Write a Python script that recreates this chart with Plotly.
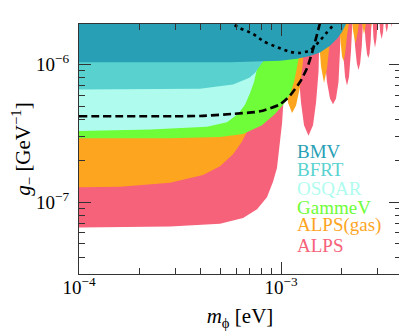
import plotly.graph_objects as go

# ---------------- data ----------------
TOP_G = 2.5e-6  # region upper edge (off the top of the chart)

BMV_m = [1.0e-4, 5.59e-4, 7.87e-4, 9.89e-4, 1.20e-3, 1.391e-3, 1.56e-3, 1.748e-3, 1.893e-3, 2.004e-3, 2.098e-3, 2.171e-3]
BMV_g = [1.04e-6, 1.04e-6, 1.05e-6, 1.068e-6, 1.102e-6, 1.154e-6, 1.226e-6, 1.371e-6, 1.54e-6, 1.726e-6, 1.97e-6, 2.19e-6]

BFRT_m = [1.0e-4, 3.97e-4, 5.79e-4, 6.79e-4, 7.02e-4, 7.43e-4, 7.87e-4, 8.23e-4, 8.62e-4, 8.92e-4]
BFRT_g = [6.61e-7, 6.68e-7, 7.18e-7, 7.89e-7, 8.10e-7, 8.68e-7, 9.71e-7, 1.077e-6, 1.371e-6, 2.11e-6]

OSQAR_m = [1.0e-4, 2.25e-4, 4.30e-4, 5.40e-4, 6.13e-4, 6.64e-4, 7.02e-4, 7.35e-4, 7.61e-4, 7.87e-4, 8.14e-4, 8.33e-4]
OSQAR_g = [3.30e-7, 3.385e-7, 3.535e-7, 3.82e-7, 4.39e-7, 5.13e-7, 6.20e-7, 7.49e-7, 9.22e-7, 1.154e-6, 1.63e-6, 2.30e-6]

GAMMEV_m = [1.0e-4, 2.82e-4, 4.99e-4, 6.49e-4, 8.05e-4, 9.34e-4, 1.047e-3, 1.108e-3, 1.160e-3, 1.200e-3, 1.228e-3, 1.256e-3, 1.27e-3]
GAMMEV_g = [2.92e-7, 2.92e-7, 2.985e-7, 3.13e-7, 3.63e-7, 4.39e-7, 5.31e-7, 6.09e-7, 7.49e-7, 9.54e-7, 1.154e-6, 1.495e-6, 2.11e-6]

ALPSGAS_m = [1.0e-4, 1.596e-4, 2.82e-4, 4.11e-4, 4.99e-4, 5.79e-4, 6.39e-4, 6.79e-4, 7.19e-4, 7.52e-4, 7.78e-4, 7.96e-4, 8.05e-4,
             1.0e-3, 1.047e-3, 1.083e-3, 1.134e-3, 1.187e-3, 1.242e-3, 1.285e-3, 1.323e-3,
             1.474e-3, 1.543e-3, 1.578e-3, 1.633e-3, 1.689e-3, 1.748e-3, 1.789e-3,
             1.893e-3, 1.959e-3, 2.004e-3, 2.035e-3, 2.075e-3, 2.122e-3, 2.196e-3,
             2.221e-3, 2.272e-3, 2.338e-3, 2.405e-3, 2.461e-3,
             2.475e-3, 2.533e-3, 2.576e-3, 2.620e-3, 2.680e-3,
             2.696e-3, 2.790e-3, 2.887e-3]
ALPSGAS_g = [1.287e-7, 1.298e-7, 1.39e-7, 1.583e-7, 1.827e-7, 2.24e-7, 2.74e-7, 3.25e-7, 3.89e-7, 5.31e-7, 8.91e-7, 1.778e-6, 2.5e-6,
             2.5e-6, 8.91e-7, 5.31e-7, 4.46e-7, 5.04e-7, 6.87e-7, 1.059e-6, 2.5e-6,
             2.5e-6, 1.495e-6, 9.71e-7, 7.36e-7, 9.38e-7, 1.495e-6, 2.5e-6,
             2.5e-6, 1.63e-6, 1.154e-6, 1.059e-6, 1.195e-6, 1.63e-6, 2.5e-6,
             2.5e-6, 1.778e-6, 1.42e-6, 1.778e-6, 2.5e-6,
             2.5e-6, 1.905e-6, 1.659e-6, 1.905e-6, 2.5e-6,
             2.5e-6, 1.872e-6, 2.5e-6]

ALPS_m = [1.0e-4, 2.82e-4, 4.99e-4, 6.49e-4, 7.61e-4, 8.52e-4, 9.13e-4, 9.55e-4, 9.89e-4, 1.012e-3, 1.035e-3, 1.053e-3, 1.065e-3,
          1.187e-3, 1.221e-3, 1.256e-3, 1.300e-3, 1.368e-3, 1.440e-3, 1.491e-3, 1.534e-3, 1.56e-3,
          1.578e-3, 1.633e-3, 1.689e-3, 1.748e-3, 1.809e-3, 1.872e-3, 1.926e-3, 1.959e-3, 1.982e-3,
          2.028e-3, 2.075e-3, 2.122e-3, 2.171e-3, 2.221e-3, 2.259e-3,
          2.272e-3, 2.325e-3, 2.373e-3, 2.419e-3, 2.466e-3, 2.512e-3, 2.547e-3,
          2.561e-3, 2.620e-3, 2.665e-3, 2.705e-3, 2.742e-3, 2.780e-3, 2.805e-3,
          2.822e-3, 2.871e-3, 2.920e-3, 2.970e-3, 3.021e-3,
          3.039e-3, 3.097e-3, 3.150e-3, 3.199e-3, 3.234e-3,
          3.253e-3, 3.297e-3, 3.335e-3, 3.377e-3, 3.424e-3,
          3.443e-3, 3.532e-3, 3.626e-3]
ALPS_g = [6.56e-8, 6.68e-8, 6.99e-8, 7.70e-8, 8.91e-8, 1.088e-7, 1.41e-7, 1.778e-7, 2.66e-7, 3.76e-7, 6.30e-7, 1.259e-6, 2.5e-6,
          2.5e-6, 8.91e-7, 5.31e-7, 3.63e-7, 3.05e-7, 3.63e-7, 5.31e-7, 8.91e-7, 2.5e-6,
          2.5e-6, 1.259e-6, 7.49e-7, 5.68e-7, 5.15e-7, 5.68e-7, 7.49e-7, 1.259e-6, 2.5e-6,
          1.259e-6, 8.17e-7, 7.05e-7, 8.17e-7, 1.259e-6, 2.5e-6,
          2.5e-6, 1.371e-6, 1.023e-6, 9.14e-7, 1.023e-6, 1.371e-6, 2.5e-6,
          2.5e-6, 1.495e-6, 1.195e-6, 1.115e-6, 1.195e-6, 1.495e-6, 2.5e-6,
          2.5e-6, 1.548e-6, 1.325e-6, 1.548e-6, 2.5e-6,
          2.5e-6, 1.717e-6, 1.535e-6, 1.717e-6, 2.5e-6,
          2.5e-6, 1.872e-6, 1.717e-6, 1.872e-6, 2.5e-6,
          2.5e-6, 1.872e-6, 2.5e-6]

DASH_m = [1.0e-4, 3.97e-4, 5.79e-4, 7.87e-4, 9.89e-4, 1.108e-3, 1.242e-3, 1.345e-3, 1.424e-3, 1.508e-3, 1.569e-3]
DASH_g = [4.22e-7, 4.24e-7, 4.39e-7, 4.58e-7, 5.15e-7, 5.96e-7, 7.49e-7, 9.43e-7, 1.216e-6, 1.659e-6, 2.077e-6]

DOT_m = [5.59e-4, 5.79e-4, 6.26e-4, 7.27e-4, 8.23e-4, 9.66e-4, 1.108e-3, 1.242e-3, 1.391e-3, 1.56e-3, 1.689e-3, 1.83e-3, 1.893e-3]
DOT_g = [2.11e-6, 1.97e-6, 1.84e-6, 1.673e-6, 1.47e-6, 1.332e-6, 1.237e-6, 1.216e-6, 1.269e-6, 1.495e-6, 1.717e-6, 1.97e-6, 2.11e-6]

LABELS = ["BMV", "BFRT", "OSQAR", "GammeV", "ALPS(gas)", "ALPS"]
COLORS = {"BMV": "#289fb5", "BFRT": "#59d2cf", "OSQAR": "#affcef",
          "GammeV": "#6efd38", "ALPS(gas)": "#fea51f", "ALPS": "#f6627a"}

X_TICKS = [1e-4, 1e-3]
X_TICKTEXT = ["10<sup>−4</sup>", "10<sup>−3</sup>"]
Y_TICKS = [1e-7, 1e-6]
Y_TICKTEXT = ["10<sup>−7</sup>", "10<sup>−6</sup>"]
X_MINOR = [2e-4, 3e-4, 4e-4, 5e-4, 6e-4, 7e-4, 8e-4, 9e-4, 2e-3, 3e-3]
Y_MINOR = [4e-8, 5e-8, 6e-8, 7e-8, 8e-8, 9e-8, 2e-7, 3e-7, 4e-7, 5e-7, 6e-7, 7e-7, 8e-7, 9e-7]

# ---------------- figure ----------------
fig = go.Figure()

def region(m, g, color):
    xs = [m[0]] + list(m) + [m[-1]]
    ys = [TOP_G] + list(g) + [TOP_G]
    fig.add_trace(go.Scatter(x=xs, y=ys, mode="lines", fill="toself",
                             fillcolor=color, line=dict(width=0, color="rgba(0,0,0,0)"),
                             hoverinfo="skip", showlegend=False))

region(ALPS_m, ALPS_g, COLORS["ALPS"])
region(ALPSGAS_m, ALPSGAS_g, COLORS["ALPS(gas)"])
region(GAMMEV_m, GAMMEV_g, COLORS["GammeV"])
region(OSQAR_m, OSQAR_g, COLORS["OSQAR"])
region(BFRT_m, BFRT_g, COLORS["BFRT"])
region(BMV_m, BMV_g, COLORS["BMV"])

fig.add_trace(go.Scatter(x=DASH_m, y=DASH_g, mode="lines",
                         line=dict(color="black", width=2.6, dash="8px,4px", shape="spline", smoothing=0.6),
                         hoverinfo="skip", showlegend=False))
fig.add_trace(go.Scatter(x=DOT_m, y=DOT_g, mode="lines",
                         line=dict(color="black", width=2.6, dash="3px,4px", shape="spline", smoothing=0.6),
                         hoverinfo="skip", showlegend=False))

label_y = [0.4897, 0.4174, 0.3409, 0.2645, 0.1942, 0.1157]
for lab, yy in zip(LABELS, label_y):
    fig.add_annotation(text=lab, xref="paper", yref="paper", x=0.672, y=yy,
                       xanchor="left", yanchor="middle", showarrow=False,
                       font=dict(family="Liberation Serif", size=19, color=COLORS[lab]))

axis_common = dict(type="log", showline=True, linecolor="#333", linewidth=1.3, mirror="allticks",
                   ticks="inside", ticklen=12, tickwidth=1.3, tickcolor="#333",
                   showgrid=False, zeroline=False, automargin=False,
                   tickfont=dict(family="Liberation Serif", size=19, color="black"))

fig.update_xaxes(range=[-4, -2.406], tickvals=X_TICKS, ticktext=X_TICKTEXT,
                 minor=dict(tickvals=X_MINOR, ticks="inside", ticklen=6, tickwidth=1.3, tickcolor="#333", showgrid=False),
                 title=dict(text="<i>m</i><sub>ϕ</sub> [eV]", font=dict(family="Liberation Serif", size=21, color="black"), standoff=11),
                 ticklabelstandoff=-4,
                 **axis_common)
fig.update_yaxes(range=[-7.52, -5.705], tickvals=Y_TICKS, ticktext=Y_TICKTEXT,
                 minor=dict(tickvals=Y_MINOR, ticks="inside", ticklen=6, tickwidth=1.3, tickcolor="#333", showgrid=False),
                 title=dict(text="<i>g</i><sub>−</sub> [GeV<sup>−1</sup>]", font=dict(family="Liberation Serif", size=21, color="black"), standoff=2),
                 ticklabelstandoff=5,
                 **axis_common)

# the page body adds an 8px offset, so the figure is sized to fit the 407x332 window
fig.update_layout(width=399, height=324, margin=dict(l=71, r=6, t=16, b=58),
                  paper_bgcolor="white", plot_bgcolor="white",
                  font=dict(family="Liberation Serif", color="black"))

fig.write_html("out.html")
